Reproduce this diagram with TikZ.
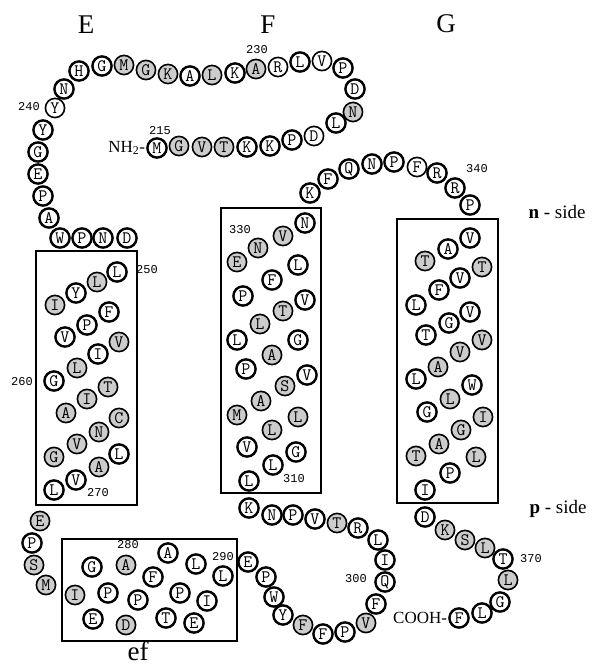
\documentclass[tikz,border=0pt]{standalone}
\usepackage{fontspec}
\setmainfont{Liberation Serif}
\newfontfamily\numfont{Liberation Mono}
\begin{document}
\begin{tikzpicture}[x=1pt,y=-1pt,
 res/.style={circle,draw,line width=2.4pt,fill=white,minimum size=19.2pt,inner sep=0pt,font=\ttfamily\fontsize{17.5}{17.5}\selectfont},
 sh/.style={res,fill=black!20,line width=1.6pt},
 wt/.style={res,line width=1.6pt},
 num/.style={font=\numfont\fontsize{12}{12}\selectfont,inner sep=0.5pt},
 big/.style={font=\fontsize{27}{27}\selectfont,inner sep=0pt},
 side/.style={font=\fontsize{19}{19}\selectfont,inner sep=0pt},
 term/.style={font=\fontsize{17}{17}\selectfont,inner sep=0pt},
 tmbox/.style={draw,line width=1.5pt}]
\useasboundingbox (0,0) rectangle (592,666);
% boxes
\draw[tmbox] (36,251) rectangle (137,505);
\draw[tmbox] (221,208) rectangle (321,493);
\draw[tmbox] (397,219) rectangle (498,503);
\draw[tmbox] (62,539) rectangle (237,641);
% residues
\foreach \nm/\x/\y/\t/\s in {
 r1/157/148/M/res, r2/179/146/G/sh, r3/202/147/V/sh, r4/224/147/T/sh, r5/247/147/K/res,
 r6/270/146/K/res, r7/292/140/P/res, r8/314/136/D/wt, r9/336/123/L/res, r10/353/112/N/sh,
 r11/355/89/D/res, r12/343/68/P/res, r13/322/61/V/wt, r14/300/62/L/res, r15/278/67/R/wt,
 r16/256/69/A/sh, r17/235/73/K/res, r18/212/75/L/sh, r19/190/76/A/res, r20/168/74/K/sh,
 r21/146/70/G/sh, r22/124/65/M/sh, r23/102/66/G/res, r24/79/71/H/res, r25/64/89/N/res,
 r26/55/108/Y/wt, r27/43/130/Y/res, r28/38/152/G/res, r29/38/174/E/res, r30/43/196/P/res,
 r31/49/218/A/res, r32/60/238/W/res, r33/82/238/P/res, r34/103/238/N/res, r35/127/238/D/res,
 r36/117/272/L/res, r37/97/282/L/sh, r38/76/293/Y/res, r39/55/305/I/sh, r40/109/312/F/res,
 r41/87/325/P/res, r42/65/337/V/res, r43/119/342/V/sh, r44/98/354/I/res, r45/77/368/L/sh,
 r46/54/381/G/res, r47/108/387/T/sh, r48/87/399/I/sh, r49/66/413/A/sh, r50/119/418/C/sh,
 r51/99/432/N/sh, r52/77/444/V/sh, r53/54/457/G/sh, r54/119/454/L/res, r55/99/467/A/sh,
 r56/76/480/V/res, r57/54/490/L/res, r58/40/521/E/sh, r59/32/543/P/res, r60/34/565/S/sh,
 r61/46/585/M/sh, r62/75/595/I/sh, r63/93/619/E/res, r64/126/625/D/sh, r65/108/593/P/res,
 r66/92/567/G/res, r67/126/565/A/sh, r68/153/577/F/res, r69/138/600/P/res, r70/166/618/T/res,
 r71/194/623/E/res, r72/207/601/I/res, r73/180/593/P/res, r74/168/553/A/res, r75/196/564/L/res,
 r76/223/576/L/res, r77/248/562/E/res, r78/266/577/P/res, r79/274/597/W/res, r80/283/615/Y/res,
 r81/303/625/F/sh, r82/323/634/F/res, r83/345/632/P/res, r84/366/623/V/sh, r85/376/604/F/res,
 r86/385/582/Q/res, r87/385/560/I/res, r88/378/540/L/res, r89/358/528/R/res, r90/337/523/T/sh,
 r91/315/519/V/res, r92/293/515/P/res, r93/272/515/N/res, r94/249/508/K/res, r95/249/481/L/res,
 r96/273/465/L/res, r97/296/452/G/res, r98/247/447/V/res, r99/272/430/L/sh, r100/298/417/L/sh,
 r101/237/415/M/sh, r102/261/401/A/sh, r103/285/386/S/sh, r104/307/375/V/res, r105/246/369/P/res,
 r106/272/355/A/sh, r107/298/340/G/res, r108/237/340/L/res, r109/260/324/L/sh, r110/283/311/T/sh,
 r111/305/300/V/res, r112/243/296/P/res, r113/272/280/F/res, r114/298/265/L/res, r115/237/262/E/sh,
 r116/258/248/N/sh, r117/283/236/V/sh, r118/305/223/N/res, r119/310/193/K/res, r120/328/179/F/res,
 r121/349/169/Q/res, r122/372/164/N/res, r123/394/162/P/res, r124/417/167/F/wt, r125/437/173/R/res,
 r126/455/188/R/res, r127/470/205/P/res, r128/470/238/V/res, r129/448/249/A/res, r130/425/261/T/sh,
 r131/482/267/T/sh, r132/460/278/V/res, r133/439/290/F/res, r134/416/305/L/res, r135/470/312/V/res,
 r136/449/323/G/res, r137/426/335/T/res, r138/482/340/V/sh, r139/460/352/V/sh, r140/438/367/A/sh,
 r141/416/379/L/res, r142/472/385/W/res, r143/450/399/L/sh, r144/427/412/G/res, r145/483/417/I/sh,
 r146/461/430/G/sh, r147/439/444/A/sh, r148/416/456/T/sh, r149/476/457/L/sh, r150/450/473/P/res,
 r151/425/490/I/res, r152/425/517/D/res, r153/445/530/K/sh, r154/465/540/S/sh, r155/485/548/L/sh,
 r156/503/559/T/res, r157/508/580/L/sh, r158/500/602/G/res, r159/482/613/L/res, r160/459/618/F/res}
 {\node[\s] (\nm) at (\x,\y) {\t};}
% termini
\node[term,anchor=east] (nterm) at ([xshift=-1pt]r1.west) {NH\textsubscript{2}-};
\node[term,anchor=east] (cterm) at ([xshift=-1pt]r160.west) {COOH-};
% numbers
\node[num] (n215) at (160,131) {215};
\node[num] (n230) at (257,50) {230};
\node[num] (n240) at (29,107) {240};
\node[num] (n250) at (147,270) {250};
\node[num] (n260) at (22,382) {260};
\node[num] (n270) at (98,493) {270};
\node[num,fill=white] (n280) at (128,545) {280};
\node[num] (n290) at (223,557) {290};
\node[num] (n300) at (356,579) {300};
\node[num] (n310) at (294,479) {310};
\node[num] (n330) at (240,230) {330};
\node[num] (n340) at (477,169) {340};
\node[num] (n370) at (531,559) {370};
% big labels
\node[big] (lE) at (86,25) {E};
\node[big] (lF) at (268,25) {F};
\node[big] (lG) at (446,24) {G};
\node[big] (lef) at (138,651) {ef};
\node[side] (nside) at (557,212) {\textbf{n} - side};
\node[side] (pside) at (558,509) {\textbf{p} - side};
\end{tikzpicture}
\end{document}
